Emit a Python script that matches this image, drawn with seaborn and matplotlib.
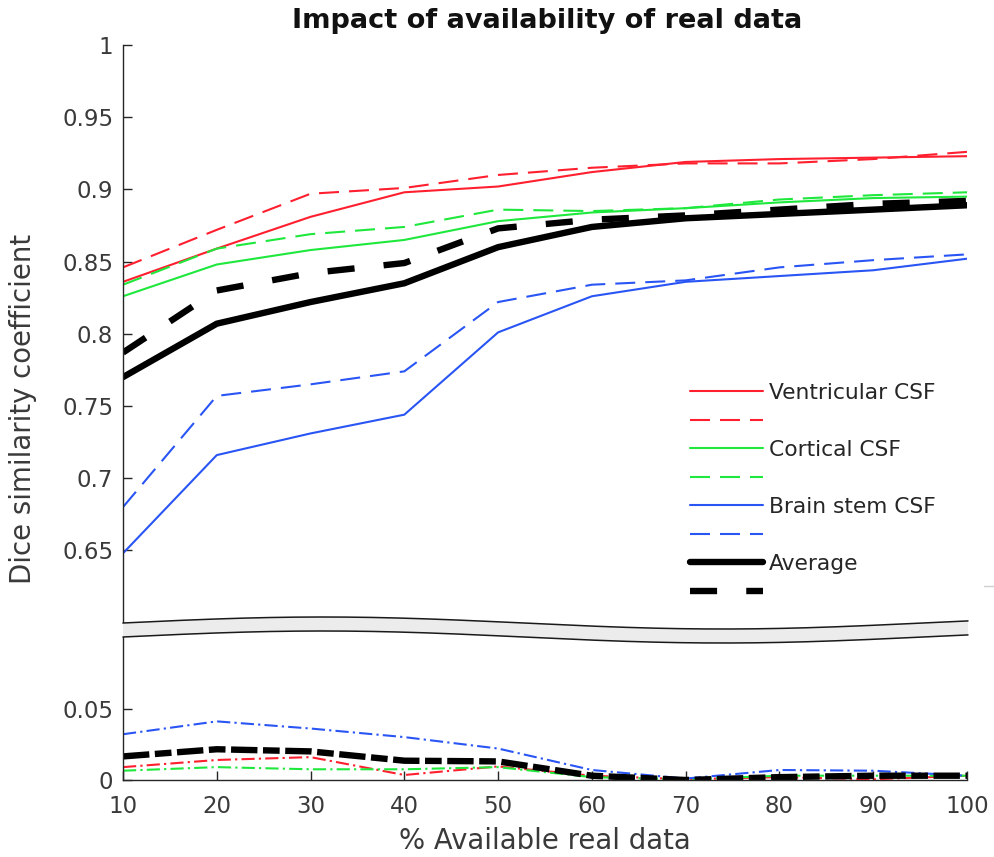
import numpy as np
import pandas as pd
import matplotlib
matplotlib.use("Agg")
import matplotlib.pyplot as plt
from matplotlib.lines import Line2D
from matplotlib.patches import Polygon
import seaborn as sns

# % of real data available for training
pct = [10, 20, 30, 40, 50, 60, 70, 80, 90, 100]

# Dice coefficients, method A (solid) and method B (dashed)
ventricular_a = [0.836, 0.859, 0.881, 0.898, 0.902, 0.912, 0.919, 0.921, 0.922, 0.923]
ventricular_b = [0.846, 0.872, 0.897, 0.901, 0.910, 0.915, 0.918, 0.918, 0.921, 0.926]
cortical_a = [0.826, 0.848, 0.858, 0.865, 0.878, 0.884, 0.887, 0.891, 0.894, 0.895]
cortical_b = [0.834, 0.859, 0.869, 0.874, 0.886, 0.885, 0.887, 0.893, 0.896, 0.898]
brainstem_a = [0.648, 0.716, 0.731, 0.744, 0.801, 0.826, 0.836, 0.840, 0.844, 0.852]
brainstem_b = [0.680, 0.757, 0.765, 0.774, 0.822, 0.834, 0.837, 0.846, 0.851, 0.855]
average_a = [0.770, 0.807, 0.822, 0.835, 0.860, 0.874, 0.880, 0.883, 0.886, 0.889]
average_b = [0.787, 0.830, 0.842, 0.849, 0.873, 0.879, 0.882, 0.886, 0.890, 0.892]

# absolute gap between the two methods
ventricular_gap = [0.009, 0.014, 0.016, 0.0035, 0.0095, 0.003, 0.0005, 0.002, 0.0005, 0.003]
cortical_gap = [0.0065, 0.009, 0.0075, 0.0075, 0.009, 0.002, 0.0005, 0.003, 0.003, 0.003]
brainstem_gap = [0.032, 0.041, 0.036, 0.030, 0.022, 0.007, 0.001, 0.007, 0.0065, 0.003]
average_gap = [0.0165, 0.0215, 0.020, 0.0135, 0.013, 0.003, 0.0, 0.002, 0.003, 0.003]

legend_labels = ["Ventricular CSF", "", "Cortical CSF", "", "Brain stem CSF", "", "Average", ""]
upper_ticks = [0.65, 0.7, 0.75, 0.8, 0.85, 0.9, 0.95, 1.0]
upper_ticklabels = ["0.65", "0.7", "0.75", "0.8", "0.85", "0.9", "0.95", "1"]
lower_ticks = [0, 0.05]
lower_ticklabels = ["0", "0.05"]
x_ticks = pct

sns.set_theme(style="white")
plt.rcParams["font.family"] = ["DejaVu Sans"]
plt.rcParams["lines.scale_dashes"] = False
plt.rcParams["lines.dash_capstyle"] = "butt"

RED, GREEN, BLUE, BLACK = "#ff1f2e", "#1fe83c", "#2a55f5", "#000000"
AXC, TXC = "#262626", "#3a3a3a"
THIN, THICK = 1.5, 4.6
DASH_THIN = (0, (14.4, 7.2))
DASH_THICK = (0, (19.5, 21.0))
DASHDOT_THIN = (0, (9.5, 3.0, 1.6, 3.0))
DASHDOT_THICK = (0, (19.0, 4.0, 12.0, 4.0))

W, H = 995, 857
fig = plt.figure(figsize=(W / 100, H / 100), dpi=100)
left_px, right_px = 123, 967
top_ax = fig.add_axes([left_px / W, 1 - 622.6 / H, (right_px - left_px) / W, (622.6 - 45) / H])
bot_ax = fig.add_axes([left_px / W, 1 - 780 / H, (right_px - left_px) / W, (780 - 637) / H])


def draw(ax, y, color, lw, ls):
    df = pd.DataFrame({"pct": pct, "val": y})
    sns.lineplot(data=df, x="pct", y="val", ax=ax, color=color, lw=lw, linestyle=ls,
                 legend=False)
    return ax.lines[-1]


handles = [
    draw(top_ax, ventricular_a, RED, THIN, "-"),
    draw(top_ax, ventricular_b, RED, THIN, DASH_THIN),
    draw(top_ax, cortical_a, GREEN, THIN, "-"),
    draw(top_ax, cortical_b, GREEN, THIN, DASH_THIN),
    draw(top_ax, brainstem_a, BLUE, THIN, "-"),
    draw(top_ax, brainstem_b, BLUE, THIN, DASH_THIN),
    draw(top_ax, average_a, BLACK, THICK, "-"),
    draw(top_ax, average_b, BLACK, THICK, DASH_THICK),
]

draw(bot_ax, ventricular_gap, RED, THIN, DASHDOT_THIN)
draw(bot_ax, cortical_gap, GREEN, THIN, DASHDOT_THIN)
draw(bot_ax, brainstem_gap, BLUE, THIN, DASHDOT_THIN)
draw(bot_ax, average_gap, BLACK, THICK, DASHDOT_THICK)

for ax in (top_ax, bot_ax):
    ax.set_xlim(10, 100)
    ax.set_xlabel("")
    ax.set_ylabel("")
    ax.set_facecolor("none")
    for side in ("top", "right"):
        ax.spines[side].set_visible(False)
    for side in ("left", "bottom"):
        ax.spines[side].set_color(AXC)
        ax.spines[side].set_linewidth(1.0)
    ax.tick_params(direction="in", length=6.5, width=1.0, color=AXC,
                   labelcolor=TXC, labelsize=16.5, left=True, bottom=True)

top_ax.set_ylim(0.6, 1.0)
top_ax.spines["bottom"].set_visible(False)
top_ax.set_xticks([])
top_ax.tick_params(bottom=False)
top_ax.set_yticks(upper_ticks)
top_ax.set_yticklabels(upper_ticklabels)
top_ax.tick_params(axis="y", pad=7)

bot_ax.set_ylim(0, 0.1)
bot_ax.set_yticks(lower_ticks)
bot_ax.set_yticklabels(lower_ticklabels)
bot_ax.set_xticks(x_ticks)
bot_ax.set_xticklabels([str(v) for v in x_ticks])
bot_ax.tick_params(axis="y", pad=7)
bot_ax.tick_params(axis="x", pad=11)

top_ax.legend(handles, legend_labels, loc="upper left", bbox_to_anchor=(0.672, 0.4148),
              frameon=False, borderpad=0, borderaxespad=0, handlelength=3.35,
              handletextpad=0.25, labelspacing=0.39, fontsize=15.7,
              labelcolor="#262626")

# wavy break between the two y ranges
xs = np.linspace(left_px, right_px + 1, 300)
upper_edge = 623 - 6 * np.sin(2 * np.pi * (xs - left_px) / 800)
lower_edge = upper_edge + 14
to_fx = lambda px: px / W
to_fy = lambda py: 1 - py / H
band = np.column_stack([np.r_[to_fx(xs), to_fx(xs[::-1])],
                        np.r_[to_fy(upper_edge), to_fy(lower_edge[::-1])]])
fig.add_artist(Polygon(band, closed=True, transform=fig.transFigure,
                       facecolor="#ececec", edgecolor="none", zorder=5))
for edge in (upper_edge, lower_edge):
    fig.add_artist(Line2D(to_fx(xs), to_fy(edge), transform=fig.transFigure,
                          color="#1a1a1a", lw=1.1, zorder=6))
fig.add_artist(Line2D([to_fx(984), to_fx(995)], [to_fy(586), to_fy(586)],
                      transform=fig.transFigure, color="#d0d0d0", lw=1.0))

fig.text(547 / W, 1 - 21 / H, "Impact of availability of real data", ha="center",
         va="center", fontsize=19.5, fontweight="bold", color="#111111")
fig.text(545 / W, 1 - 841 / H, "% Available real data", ha="center", va="center",
         fontsize=19.8, color=TXC)
fig.text(23 / W, 1 - 409 / H, "Dice similarity coefficient", ha="center", va="center",
         rotation=90, fontsize=19.8, color=TXC)

fig.savefig("out.png", dpi=100)
